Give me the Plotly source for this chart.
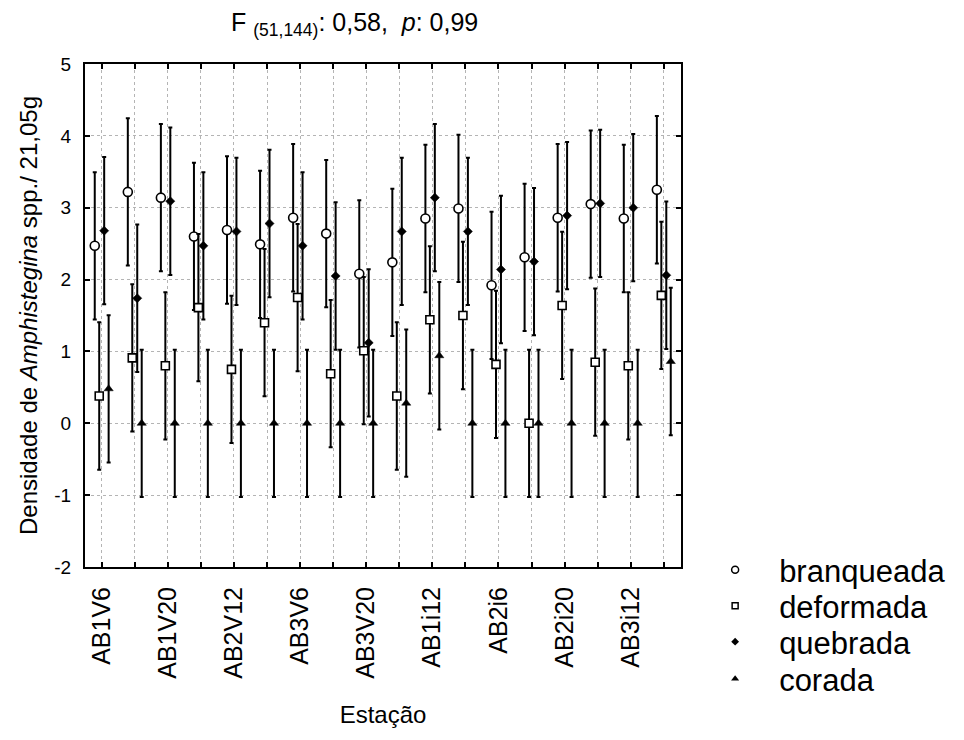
import plotly.graph_objects as go

# Stations (x categories); only every other station gets a tick label
estacoes = ["AB1V6", "AB1V12", "AB1V20", "AB2V6", "AB2V12", "AB2V20",
            "AB3V6", "AB3V12", "AB3V20", "AB1i6", "AB1i12", "AB1i20",
            "AB2i6", "AB2i12", "AB2i20", "AB3i6", "AB3i12", "AB3i20"]

# Mean density per station for each test type
branqueada = [2.47, 3.22, 3.14, 2.60, 2.69, 2.49, 2.86, 2.64, 2.08,
              2.24, 2.85, 2.99, 1.92, 2.31, 2.86, 3.05, 2.85, 3.25]
deformada = [0.38, 0.91, 0.80, 1.61, 0.75, 1.40, 1.75, 0.69, 1.01,
             0.38, 1.44, 1.50, 0.82, 0.00, 1.64, 0.85, 0.80, 1.78]
quebrada = [2.68, 1.74, 3.09, 2.47, 2.67, 2.78, 2.47, 2.05, 1.12,
            2.67, 3.14, 2.67, 2.14, 2.25, 2.89, 3.06, 3.00, 2.06]
corada = [0.48, 0.00, 0.00, 0.00, 0.00, 0.00, 0.00, 0.00, 0.00,
          0.28, 0.94, 0.00, 0.00, 0.00, 0.00, 0.00, 0.00, 0.86]

# Half-width of the 95% confidence interval (pooled error)
ic95 = 1.025

ytick_vals = [-2, -1, 0, 1, 2, 3, 4, 5]
ytick_text = ["-2", "-1", "0", "1", "2", "3", "4", "5"]

series = [
    ("branqueada", branqueada, -0.21,
     dict(symbol="circle", size=9, color="white", line=dict(color="black", width=1.6)),
     dict(symbol="circle", size=7, color="white", line=dict(color="black", width=1.5))),
    ("deformada", deformada, -0.075,
     dict(symbol="square", size=8, color="white", line=dict(color="black", width=1.6)),
     dict(symbol="square", size=6, color="white", line=dict(color="black", width=1.5))),
    ("quebrada", quebrada, 0.075,
     dict(symbol="diamond", size=7, color="black", line=dict(color="black", width=0.5)),
     dict(symbol="diamond", size=6, color="black", line=dict(width=0))),
    ("corada", corada, 0.21,
     dict(symbol="triangle-up", size=8, color="black", line=dict(color="black", width=0.5)),
     dict(symbol="triangle-up", size=7, color="black", line=dict(width=0))),
]

idx = list(range(len(estacoes)))

fig = go.Figure()
for name, vals, off, mk, mk_leg in series:
    fig.add_trace(go.Scatter(
        x=[i + off for i in idx], y=vals, mode="markers", name=name,
        marker=mk, showlegend=False,
        error_y=dict(type="constant", value=ic95, color="black",
                     thickness=2, width=2),
    ))

# One legend box per entry so the rows can be spaced freely
legend_ids = ["legend", "legend2", "legend3", "legend4"]
legend_rows = [-0.006, -0.0776, -0.1492, -0.2228]
for (name, vals, off, mk, mk_leg), lid in zip(series, legend_ids):
    fig.add_trace(go.Scatter(
        x=[None], y=[None], mode="markers", name=name, marker=mk_leg,
        showlegend=True, legend=lid,
    ))

ticktext = [lab if i % 2 == 0 else "" for i, lab in enumerate(estacoes)]

axis_common = dict(
    showline=True, linecolor="black", linewidth=2, mirror="ticks",
    ticks="inside", ticklen=5, tickwidth=1.5, tickcolor="black",
    showgrid=True, gridcolor="#b4b4b4", gridwidth=1, griddash="dot",
    zeroline=False,
)

legend_style = dict(
    x=1.017, xanchor="left", yanchor="middle",
    font=dict(size=31), itemwidth=78,
    bgcolor="rgba(0,0,0,0)", borderwidth=0,
)

fig.update_layout(
    width=964, height=740,
    margin=dict(l=85, r=283, t=64, b=173),
    paper_bgcolor="white", plot_bgcolor="white",
    font=dict(family="Liberation Sans, Arial, sans-serif", color="black"),
    title=dict(
        text="F <sub>(51,144)</sub>: 0,58,&nbsp;&nbsp;<i>p</i>: 0,99",
        x=0.245, xref="paper", y=1 - 22 / 740, yref="container",
        xanchor="left", yanchor="middle",
        font=dict(size=25, color="black"),
    ),
    xaxis=dict(
        **axis_common,
        range=[-0.505, 17.52],
        tickmode="array", tickvals=idx, ticktext=ticktext,
        tickangle=-90, tickfont=dict(size=25),
        ticklabelstandoff=8,
        title=dict(text="Estação", font=dict(size=24), standoff=28),
    ),
    yaxis=dict(
        **axis_common,
        range=[-2, 5],
        tickmode="array", tickvals=ytick_vals, ticktext=ytick_text,
        tickfont=dict(size=19), ticklabelstandoff=8,
        title=dict(text="Densidade de <i>Amphistegina</i> spp./ 21,05g",
                   font=dict(size=24), standoff=10),
    ),
    legend=dict(**legend_style, y=legend_rows[0]),
    legend2=dict(**legend_style, y=legend_rows[1]),
    legend3=dict(**legend_style, y=legend_rows[2]),
    legend4=dict(**legend_style, y=legend_rows[3]),
)

fig.write_html("out.html")
